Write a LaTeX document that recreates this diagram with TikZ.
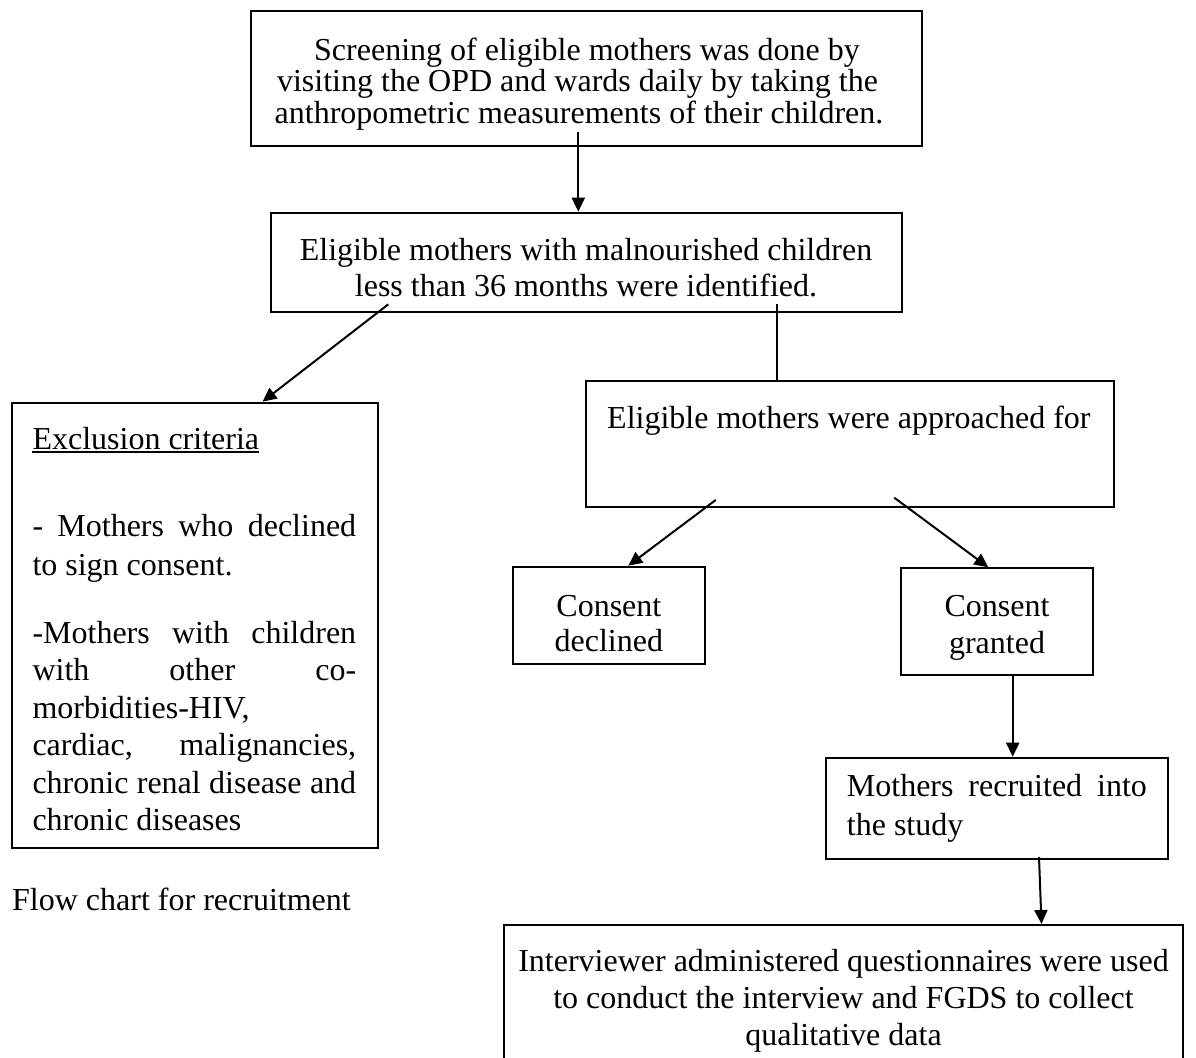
\documentclass[tikz,border=0pt]{standalone}
\usepackage{fontspec}
\setmainfont{Liberation Serif}
\usetikzlibrary{arrows.meta,calc}
\begin{document}
\begin{tikzpicture}[x=1pt,y=-1pt,
  box/.style={draw, line width=2pt, inner sep=0pt},
  txt/.style={inner sep=0pt, font=\fontsize{32}{37}\selectfont},
  arr/.style={line width=2pt, -{Triangle[length=14pt,width=13pt]}},
  ln/.style={line width=2pt}]
\useasboundingbox (0,0) rectangle (1196,1057);
\fill[white] (0,0) rectangle (1196,1057);
\clip (0,0) rectangle (1196,1057);

% boxes
\node[box, minimum width=671pt, minimum height=135.3pt] (b1) at (586.2,78.35) {};
\node[box, minimum width=631pt, minimum height=99pt] (b2) at (586.2,262.2) {};
\node[box, minimum width=366pt, minimum height=445pt] (b3) at (194.7,625.2) {};
\node[box, minimum width=528pt, minimum height=126pt] (b4) at (850,443.7) {};
\node[box, minimum width=192.3pt, minimum height=97.3pt] (b5) at (608.85,615.35) {};
\node[box, minimum width=192.6pt, minimum height=106.7pt] (b6) at (997,621.65) {};
\node[box, minimum width=342.6pt, minimum height=101.6pt] (b7) at (997,808.5) {};
\node[box, minimum width=679pt, minimum height=155pt] (b8) at (843.5,1002.5) {};

% texts
\node[txt, anchor=base] (t1a) at (587,60) {Screening of eligible mothers was done by};
\node[txt, anchor=base] (t1b) at (577.5,91.7) {visiting the OPD and wards daily by taking the};
\node[txt, anchor=base] (t1c) at (579,123.3) {anthropometric measurements of their children.};
\node[txt, anchor=base] (t2a) at (586,260) {Eligible mothers with malnourished children};
\node[txt, anchor=base] (t2b) at (586,296.7) {less than 36 months were identified.};

\node[txt, anchor=base west] (e0) at (32.3,449) {Exclusion criteria};
\draw[line width=1.3pt] ($(e0.base west)+(0,3)$) -- ($(e0.base east)+(0,3)$);
\node[txt, anchor=base west] (e1) at (32.3,536.7) {\makebox[323.7pt][s]{- Mothers who declined}};
\node[txt, anchor=base west] (e2) at (32.3,575) {to sign consent.};
\node[txt, anchor=base west] (e3) at (32.3,643.3) {\makebox[323.7pt][s]{-Mothers with children}};
\node[txt, anchor=base west] (e4) at (32.3,680.8) {\makebox[323.7pt][s]{with other co-}};
\node[txt, anchor=base west] (e5) at (32.3,718.3) {morbidities-HIV,};
\node[txt, anchor=base west] (e6) at (32.3,755.8) {\makebox[323.7pt][s]{cardiac, malignancies,}};
\node[txt, anchor=base west] (e7) at (32.3,793.3) {\makebox[323.7pt][s]{chronic renal disease and}};
\node[txt, anchor=base west] (e8) at (32.3,830.8) {chronic diseases};

\node[txt, anchor=base west] (ta) at (607,428) {Eligible mothers were approached for};
\node[txt, anchor=base] (d1) at (608.85,616.2) {Consent};
\node[txt, anchor=base] (d2) at (608.85,651.5) {declined};
\node[txt, anchor=base] (g1) at (997,616.7) {Consent};
\node[txt, anchor=base] (g2) at (997,653.3) {granted};
\node[txt, anchor=base west] (r1) at (846.7,796.7) {\makebox[300pt][s]{Mothers recruited into}};
\node[txt, anchor=base west] (r2) at (846.7,835) {the study};
\node[txt, anchor=base] (i1) at (843.5,971.7) {Interviewer administered questionnaires were used};
\node[txt, anchor=base] (i2) at (843.5,1008.3) {to conduct the interview and FGDS to collect};
\node[txt, anchor=base] (i3) at (843.5,1045) {qualitative data};
\node[txt, anchor=base west] (fc) at (12,910) {Flow chart for recruitment};

% connectors
\coordinate (s1) at (578.3,131.7);
\draw[arr] (s1) -- (s1 |- b2.north);
\coordinate (s2) at (388.3,304.3);
\coordinate (x2) at (262.5,0);
\draw[arr] (s2) -- (x2 |- b3.north);
\coordinate (s3) at (776.7,304.3);
\draw[ln] (s3) -- (s3 |- b4.north);
\coordinate (s4) at (715.7,500);
\coordinate (x4) at (628.3,0);
\draw[arr] (s4) -- (x4 |- b5.north);
\coordinate (s5) at (894.3,497.7);
\coordinate (x5) at (988.3,0);
\draw[arr] (s5) -- (x5 |- b6.north);
\coordinate (x6) at (1012.7,0);
\draw[arr] (x6 |- b6.south) -- (x6 |- b7.north);
\coordinate (s7) at (1039,857);
\coordinate (x7) at (1041.5,0);
\draw[arr] (s7) -- (x7 |- b8.north);
\end{tikzpicture}
\end{document}
